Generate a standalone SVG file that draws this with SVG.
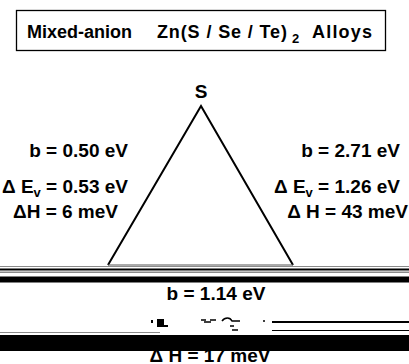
<svg xmlns="http://www.w3.org/2000/svg" width="409" height="364" viewBox="0 0 409 364">
<style>
.t{font-family:"Liberation Sans",Arial,Helvetica,sans-serif;font-weight:bold;font-size:19px;fill:#000}
.tt{font-size:18px}
.sub{font-size:13px}
.bar{fill:#000}
.gbar{fill:#8a8a8a}
</style>
<rect width="409" height="364" fill="#fff"/>
<g id="title">
<rect x="16.5" y="10.5" width="369" height="40" fill="none" stroke="#000" stroke-width="1.3"/>
<text class="t tt" x="27" y="38">Mixed-anion</text>
<text class="t tt" x="157" y="38" textLength="130" lengthAdjust="spacing">Zn(S / Se / Te)</text>
<text class="t sub" x="292" y="43">2</text>
<text class="t tt" x="312" y="38" textLength="60" lengthAdjust="spacing">Alloys</text>
</g>
<g id="connectors">
<polyline points="108,265 201,106 293,265" fill="none" stroke="#000" stroke-width="2"/>
<line x1="108" y1="265" x2="293" y2="265" stroke="#555" stroke-width="1.2"/>
</g>
<g id="node-S">
<text class="t" x="201" y="98" text-anchor="middle">S</text>
</g>
<g id="left-labels">
<text class="t" x="128" y="157" text-anchor="end">b = 0.50 eV</text>
<text class="t" x="128" y="193" text-anchor="end">Δ E<tspan class="sub" dy="4">v</tspan><tspan dy="-4"> = 0.53 eV</tspan></text>
<text class="t" x="118" y="218" text-anchor="end">ΔH = 6 meV</text>
</g>
<g id="right-labels">
<text class="t" x="400" y="157" text-anchor="end">b = 2.71 eV</text>
<text class="t" x="400" y="193" text-anchor="end">Δ E<tspan class="sub" dy="4">v</tspan><tspan dy="-4"> = 1.26 eV</tspan></text>
<text class="t" x="408" y="218" text-anchor="end">Δ H = 43  meV</text>
</g>
<g id="scan-bars">
<rect class="gbar" x="0" y="266" width="409" height="1"/>
<rect class="bar" x="0" y="268.5" width="409" height="2"/>
<rect class="gbar" x="0" y="271.5" width="409" height="1.5"/>
<rect class="bar" x="0" y="276.5" width="409" height="6"/>
<rect class="bar" x="272" y="321" width="137" height="2"/>
<rect class="bar" x="272" y="330" width="137" height="1"/>
<rect class="gbar" x="0" y="332" width="160" height="1"/>
<rect class="bar" x="151" y="320" width="2" height="3"/>
<rect class="bar" x="157" y="319" width="7" height="8"/>
<rect class="bar" x="164" y="325" width="4" height="2"/>
<path d="M201 320h5M204 322h7M210 320h6M222 321c3-4 8-4 10 0h8M230 326h4M232 330h6M264 320v2" stroke="#000" stroke-width="1.5" fill="none"/>
</g>
<g id="bottom-labels">
<text class="t" x="216" y="300" text-anchor="middle">b = 1.14 eV</text>
<text class="t" x="210" y="362" text-anchor="middle">Δ H = 17 meV</text>
<rect class="bar" x="0" y="335" width="409" height="16"/>
</g>
</svg>
